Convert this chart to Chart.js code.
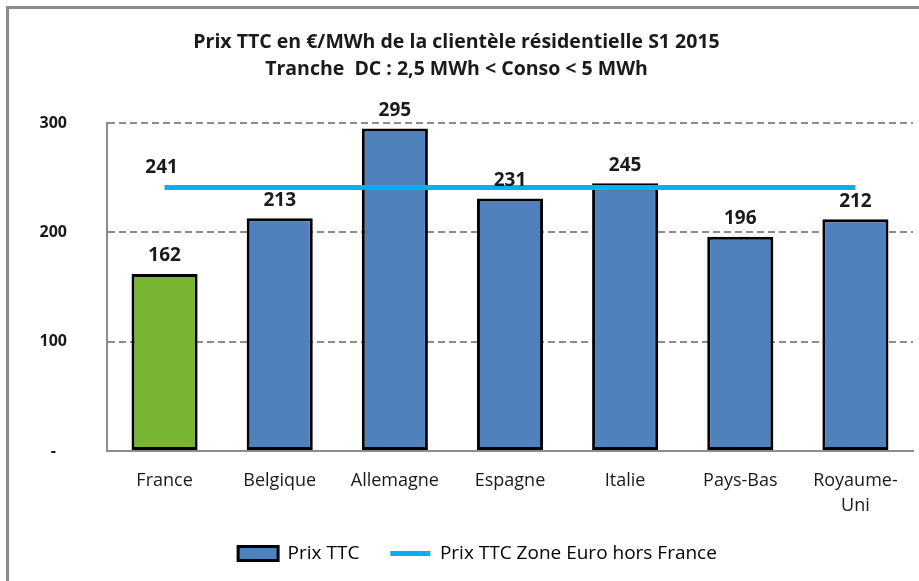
<!DOCTYPE html>
<html>
<head>
<meta charset="utf-8">
<script src="https://cdn.jsdelivr.net/npm/chart.js@4"></script>
<style>
  html, body { margin: 0; padding: 0; background: #fff; }
  #wrap { position: relative; width: 919px; height: 581px; overflow: hidden; }
  #frame { position: absolute; left: 6px; top: 6px; right: -10px; bottom: -10px;
           border-left: 3px solid #8c8c8c; border-top: 3px solid #8c8c8c; }
  canvas { position: absolute; left: 0; top: 0; }
</style>
</head>
<body>
<div id="wrap">
  <div id="frame"></div>
  <canvas id="chart" width="919" height="581"></canvas>
</div>
<script>
// data
const categories = ['France', 'Belgique', 'Allemagne', 'Espagne', 'Italie', 'Pays-Bas', ['Royaume-', 'Uni']];
const prixTTC = [162, 213, 295, 231, 245, 196, 212];
const prixZoneEuro = [241, 241, 241, 241, 241, 241, 241];
const yTickLabels = ['-', '100', '200', '300'];
const seriesNames = ['Prix TTC', 'Prix TTC Zone Euro hors France'];
const titleLines = ['Prix TTC en €/MWh de la clientèle résidentielle S1 2015', 'Tranche  DC : 2,5 MWh < Conso < 5 MWh'];

const BLUE = '#4f81bd';
const GREEN = '#77b531';
const CYAN = '#00b0f0';
const GRID = '#8c8c8c';
const TEXT = '#1a1a1a';

// value labels on top of bars + the single label on the line
const valueLabels = {
    id: 'valueLabels',
    afterDatasetsDraw(chart) {
        const { ctx } = chart;
        ctx.save();
        ctx.font = 'bold 19px "Open Sans"';
        ctx.fillStyle = TEXT;
        ctx.textAlign = 'center';
        ctx.textBaseline = 'middle';
        chart.getDatasetMeta(0).data.forEach((bar, i) => {
            ctx.fillText(prixTTC[i], bar.x, bar.y - 18);
        });
        const pt = chart.getDatasetMeta(1).data[0];
        ctx.fillText(prixZoneEuro[0], pt.x - 3, pt.y - 20);
        ctx.restore();
    }
};

// the legend in the reference sits a little right of the canvas centre
const legendShift = {
    id: 'legendShift',
    afterLayout(chart) {
        chart.legend.left += 21;
        chart.legend.right += 21;
    }
};

new Chart(document.getElementById('chart'), {
    data: {
        labels: categories,
        datasets: [{
            type: 'bar',
            label: seriesNames[0],
            data: prixTTC,
            backgroundColor: prixTTC.map((v, i) => i === 0 ? GREEN : BLUE),
            borderColor: '#000',
            borderWidth: 3,
            borderSkipped: false,
            categoryPercentage: 1,
            barPercentage: 0.574,
            order: 2
        }, {
            type: 'line',
            label: seriesNames[1],
            data: prixZoneEuro,
            borderColor: CYAN,
            borderWidth: 5,
            pointRadius: 0,
            fill: false,
            order: 1
        }]
    },
    options: {
        responsive: false,
        animation: false,
        layout: { padding: { left: 0, right: 6, top: 0, bottom: 8 } },
        plugins: {
            title: {
                display: true,
                text: titleLines,
                color: TEXT,
                font: { family: 'Open Sans', size: 19.5, weight: 'bold', lineHeight: 1.385 },
                padding: { top: 28.5, bottom: 40.5 }
            },
            legend: {
                position: 'bottom',
                labels: {
                    color: TEXT,
                    font: { family: 'Open Sans', size: 19 },
                    usePointStyle: true,
                    pointStyleWidth: 40,
                    boxHeight: 14,
                    padding: 31,
                    generateLabels: () => [{
                        text: seriesNames[0],
                        fillStyle: BLUE,
                        strokeStyle: '#000',
                        lineWidth: 3,
                        pointStyle: 'rect',
                        datasetIndex: 0
                    }, {
                        text: seriesNames[1],
                        fillStyle: CYAN,
                        strokeStyle: CYAN,
                        lineWidth: 5,
                        pointStyle: 'line',
                        datasetIndex: 1
                    }]
                }
            },
            tooltip: { enabled: false }
        },
        scales: {
            x: {
                grid: { display: false },
                border: { display: true, color: GRID, width: 2 },
                ticks: {
                    color: TEXT,
                    font: { family: 'Open Sans', size: 18, lineHeight: 1.4 },
                    maxRotation: 0,
                    autoSkip: false,
                    padding: 9
                },
                afterFit(scale) { scale.height = 62; }
            },
            y: {
                min: 0,
                max: 300,
                ticks: {
                    stepSize: 100,
                    color: TEXT,
                    font: { family: 'Open Sans', size: 16, weight: 'bold' },
                    crossAlign: 'center',
                    padding: 40,
                    callback: (v, i) => yTickLabels[i]
                },
                grid: {
                    drawTicks: false,
                    color: ctx => ctx.tick && ctx.tick.value === 0 ? 'rgba(0,0,0,0)' : GRID,
                    lineWidth: 2
                },
                border: { display: true, color: GRID, width: 2, dash: [7, 4] },
                afterFit(scale) { scale.width = 107; }
            }
        }
    },
    plugins: [valueLabels, legendShift]
});
</script>
</body>
</html>
